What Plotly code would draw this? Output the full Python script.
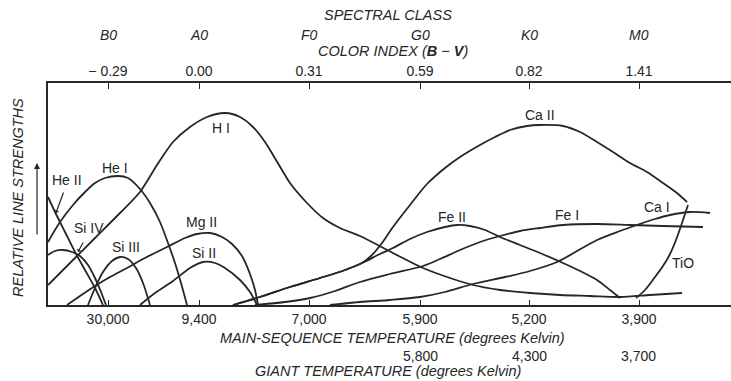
import plotly.graph_objects as go

# ---- axis tick data (x positions along axis) ----
TICK_POS = [108, 199, 309, 420, 529, 639]
SPECTRAL_CLASS = ["B0", "A0", "F0", "G0", "K0", "M0"]
COLOR_INDEX = ["− 0.29", "0.00", "0.31", "0.59", "0.82", "1.41"]
MS_TEMP = ["30,000", "9,400", "7,000", "5,900", "5,200", "3,900"]
GIANT_POS = [420, 529, 638]
GIANT_TEMP = ["5,800", "4,300", "3,700"]

# ---- curves: x = position along axis, y = relative line strength ----
HE_II_X = [48, 55, 65, 75, 85, 95, 103]
HE_II_Y = [108, 93, 73, 53, 35, 17, 0]

SI_IV_X = [48, 55, 63, 72, 80, 88, 95, 101, 106]
SI_IV_Y = [50, 54, 55, 53, 49, 40, 27, 13, 0]

HE_I_X = [48, 60, 73, 85, 95, 105, 118, 128, 140, 150, 160, 168, 175, 181, 187]
HE_I_Y = [63, 83, 100, 113, 122, 127, 129, 127, 116, 102, 83, 62, 42, 22, 0]

SI_III_X = [88, 95, 103, 112, 120, 128, 136, 143, 150]
SI_III_Y = [0, 17, 33, 44, 48, 46, 37, 22, 0]

MG_II_X = [67, 80, 95, 110, 125, 145, 167, 185, 197, 210, 222, 232, 242, 250, 255, 258]
MG_II_Y = [0, 9, 19, 28, 36, 47, 58, 67, 71, 72, 68, 61, 49, 31, 15, 0]

SI_II_X = [140, 155, 173, 190, 203, 215, 225, 240, 250, 257]
SI_II_Y = [0, 12, 24, 37, 43, 42, 37, 25, 13, 0]

H_I_X = [48, 70, 95, 120, 140, 157, 173, 190, 207, 225, 240, 253, 265, 273, 282,
         290, 307, 323, 340, 360, 393, 423, 450, 473, 500, 530, 560, 590, 620, 650, 682]
H_I_Y = [20, 42, 67, 92, 113, 140, 163, 178, 188, 192, 188, 178, 163, 150, 135,
         122, 102, 87, 77, 69, 52, 37, 27, 20, 15, 12, 10, 9, 8, 10, 12]

CA_II_X = [233, 260, 290, 320, 345, 362, 372, 382, 393, 410, 427, 445, 460, 480,
           495, 510, 527, 540, 563, 580, 597, 613, 630, 647, 663, 677, 687]
CA_II_Y = [0, 8, 18, 27, 35, 42, 50, 62, 78, 100, 121, 137, 148, 160,
           168, 175, 179, 180, 179, 173, 163, 153, 142, 133, 122, 112, 103]

FE_II_X = [233, 260, 290, 320, 345, 362, 380, 393, 410, 427, 445, 457, 470, 485,
           500, 520, 540, 563, 580, 597, 610, 620]
FE_II_Y = [0, 8, 18, 27, 35, 42, 51, 57, 66, 73, 78, 80, 79, 75,
           68, 60, 52, 42, 34, 25, 15, 7]

FE_I_X = [255, 285, 310, 335, 360, 390, 423, 440, 460, 480, 500, 520, 540, 563, 597, 630, 663, 703]
FE_I_Y = [0, 3, 7, 14, 23, 31, 39, 46, 55, 63, 69, 74, 77, 80, 81, 80, 79, 78]

CA_I_X = [330, 360, 390, 420, 445, 473, 505, 530, 557, 597, 620, 637, 655, 670, 690, 710]
CA_I_Y = [0, 3, 5, 8, 13, 21, 28, 34, 43, 65, 74, 80, 86, 90, 93, 92]

TIO_X = [636, 645, 655, 663, 670, 676, 681, 685, 688]
TIO_Y = [7, 15, 28, 39, 51, 65, 79, 91, 100]

CURVES = [
    (HE_II_X, HE_II_Y), (SI_IV_X, SI_IV_Y), (HE_I_X, HE_I_Y), (SI_III_X, SI_III_Y),
    (MG_II_X, MG_II_Y), (SI_II_X, SI_II_Y), (H_I_X, H_I_Y), (CA_II_X, CA_II_Y),
    (FE_II_X, FE_II_Y), (FE_I_X, FE_I_Y), (CA_I_X, CA_I_Y), (TIO_X, TIO_Y),
]

# curve labels: text, x, y
LABELS = [
    ("He II", 67, 125), ("He I", 115, 137), ("Si IV", 89, 77), ("Si III", 126, 58),
    ("Mg II", 201, 83), ("Si II", 204, 52), ("H I", 221, 177), ("Ca II", 540, 190),
    ("Fe II", 452, 88), ("Fe I", 567, 90), ("Ca I", 657, 98), ("TiO", 683, 42),
]

INK = "#262626"
FONT = "Liberation Sans, Arial, sans-serif"
YMAX = 222

fig = go.Figure()
for xs, ys in CURVES:
    fig.add_trace(go.Scatter(x=xs, y=ys, mode="lines",
                             line=dict(color=INK, width=1.8, shape="spline", smoothing=0.8),
                             hoverinfo="skip", showlegend=False))
# invisible trace to anchor the top axis
fig.add_trace(go.Scatter(x=[TICK_POS[0]], y=[0], xaxis="x2", mode="markers",
                         marker=dict(opacity=0), hoverinfo="skip", showlegend=False))

ann = []
for t, x, y in LABELS:
    ann.append(dict(text=t, x=x, y=y, xref="x", yref="y", showarrow=False,
                    xanchor="center", yanchor="middle",
                    font=dict(size=14, color=INK, family=FONT)))

def py(ypx):
    return (305 - ypx) / YMAX

# small pointer arrows
ann.append(dict(text="", x=56, y=92, xref="x", yref="y", ax=8, ay=-22,
                showarrow=True, arrowhead=1, arrowsize=0.7, arrowwidth=1.2, arrowcolor=INK))
ann.append(dict(text="", x=78, y=53, xref="x", yref="y", ax=6, ay=-11,
                showarrow=True, arrowhead=1, arrowsize=0.7, arrowwidth=1.2, arrowcolor=INK))

for x, t in zip(TICK_POS, SPECTRAL_CLASS):
    ann.append(dict(text=f"<i>{t}</i>", x=x, y=py(35), xref="x", yref="paper",
                    xanchor="center", yanchor="middle", showarrow=False,
                    font=dict(size=14, color=INK, family=FONT)))
for x, t in zip(GIANT_POS, GIANT_TEMP):
    ann.append(dict(text=t, x=x, y=py(356), xref="x", yref="paper",
                    xanchor="center", yanchor="middle", showarrow=False,
                    font=dict(size=14, color=INK, family=FONT)))

titles = [
    ("<i>SPECTRAL CLASS</i>", 388, 15),
    ("<i>COLOR INDEX (<b>B</b> − <b>V</b>)</i>", 393, 51),
    ("<i>MAIN-SEQUENCE TEMPERATURE (degrees Kelvin)</i>", 392, 338),
    ("<i>GIANT TEMPERATURE (degrees Kelvin)</i>", 388, 371),
]
for t, x, y in titles:
    ann.append(dict(text=t, x=x, y=py(y), xref="x", yref="paper", showarrow=False,
                    xanchor="center", yanchor="middle",
                    font=dict(size=14.5, color=INK, family=FONT)))

ann.append(dict(text="<i>RELATIVE LINE STRENGTHS</i>", x=(18 - 48) / 683, y=py(198),
                xref="paper", yref="paper", textangle=-90, showarrow=False,
                xanchor="center", yanchor="middle",
                font=dict(size=14.5, color=INK, family=FONT)))
# vertical arrow beside the y title
ann.append(dict(text="", x=(37 - 48) / 683, y=py(163), xref="paper", yref="paper",
                ax=0, ay=73, showarrow=True, arrowhead=2, arrowsize=1, arrowwidth=1.2,
                arrowcolor=INK))

axis_common = dict(range=[48, 731], showgrid=False, zeroline=False, showline=True,
                   linecolor=INK, linewidth=1.6, ticks="inside", tickcolor=INK,
                   tickwidth=1.3, tickvals=TICK_POS, automargin=False,
                   tickfont=dict(size=14, color=INK, family=FONT))

fig.update_layout(
    width=731, height=381, autosize=False,
    margin=dict(l=48, r=0, t=83, b=76, pad=0),
    paper_bgcolor="white", plot_bgcolor="white",
    xaxis=dict(**axis_common, ticktext=MS_TEMP, ticklen=5),
    xaxis2=dict(**axis_common, ticktext=COLOR_INDEX, ticklen=6, overlaying="x", side="top"),
    yaxis=dict(range=[0, YMAX], showgrid=False, zeroline=False, showline=True,
               automargin=False, linecolor=INK, linewidth=1.6, ticks="",
               showticklabels=False),
    annotations=ann,
)

fig.write_html("out.html", config={"displayModeBar": False},
               post_script="document.body.style.margin='0';")
